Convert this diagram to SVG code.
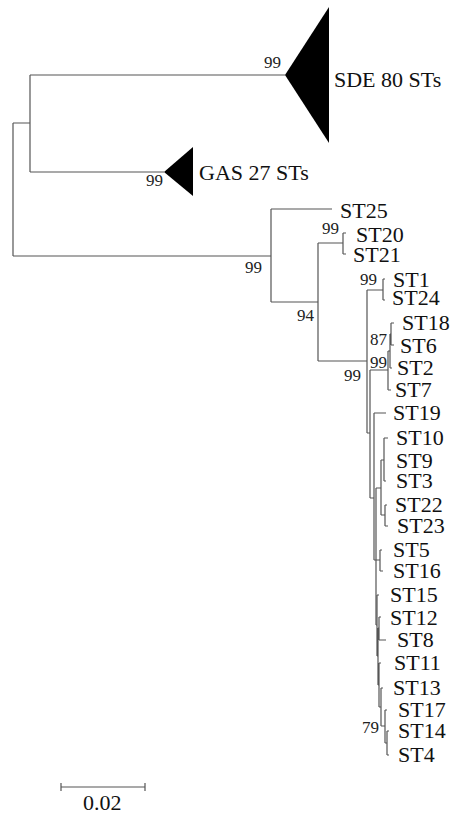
<svg xmlns="http://www.w3.org/2000/svg" width="453" height="815" viewBox="0 0 453 815">
<style>
.br{fill:none;stroke:#555;stroke-width:1.2}
.tri{fill:#000;stroke:none}
.lab{font-family:"Liberation Serif","Times New Roman",serif;font-size:22px;fill:#111}
.bs{font-family:"Liberation Serif","Times New Roman",serif;font-size:17px;fill:#222;text-anchor:end}
</style>
<rect width="453" height="815" fill="#fff"/>
<g id="connectors">
<path class="br" d="M13,123V256M13,123H30M30,75V172M30,75H285M30,172H164"/>
<path class="br" d="M13,256H271M271,209V302M271,209H332M271,302H318M318,243V361M318,243H343M343,233V254M343,233H346M343,254H346"/>
<path class="br" d="M318,361H367M367,290V433M367,290H383M383,279V300M383,279H385M383,300H385"/>
<path class="br" d="M367,433H370M370,370V498M370,370H388M388,351V390M388,390H391M388,351H390M390,334V368M390,368H392M390,334H391M391,323V345M391,323H394M391,345H394"/>
<path class="br" d="M370,498H374M374,413V560M374,413H386M374,560H376M376,488V625"/>
<path class="br" d="M376,488H381M381,460V515M381,460H384M384,438V481M384,438H388M384,481H386M381,515H385M385,505V526M385,505H387M385,526H388"/>
<path class="br" d="M376,625H377M376,560H380M380,550V571M380,550H382M380,571H383M377,595V656M377,595H379M377,656H378M378,628V685M378,628H379M379,617V640M379,617H381M379,640H386M378,685H379M379,663V707M379,663H381M379,707H381M381,688V726M381,688H383M381,726H385M385,710V743M385,710H387M385,743H387M387,731V755M387,731H389M387,755H389"/>
<path class="br" d="M61,787H145M61,783V791M145,783V791"/>
</g>
<g id="SDE"><polygon class="tri" points="285,75 329,7 329,143"/><text class="lab" x="334" y="87">SDE 80 STs</text><text class="bs" x="281" y="68">99</text></g>
<g id="GAS"><polygon class="tri" points="164,172 193,147 193,196"/><text class="lab" x="199" y="180">GAS 27 STs</text><text class="bs" x="163" y="186">99</text></g>
<g id="bootstrap">
<text class="bs" x="262" y="273">99</text>
<text class="bs" x="314" y="321">94</text>
<text class="bs" x="339" y="234">99</text>
<text class="bs" x="377" y="285">99</text>
<text class="bs" x="387" y="345">87</text>
<text class="bs" x="387" y="368">99</text>
<text class="bs" x="361" y="381">99</text>
<text class="bs" x="379" y="733">79</text>
</g>
<g id="tips">
<text class="lab" x="340" y="218">ST25</text>
<text class="lab" x="356" y="242">ST20</text>
<text class="lab" x="353" y="262">ST21</text>
<text class="lab" x="393" y="287">ST1</text>
<text class="lab" x="392" y="305">ST24</text>
<text class="lab" x="402" y="330">ST18</text>
<text class="lab" x="400" y="353">ST6</text>
<text class="lab" x="397" y="375">ST2</text>
<text class="lab" x="395" y="397">ST7</text>
<text class="lab" x="393" y="420">ST19</text>
<text class="lab" x="396" y="445">ST10</text>
<text class="lab" x="396" y="468">ST9</text>
<text class="lab" x="396" y="488">ST3</text>
<text class="lab" x="395" y="512">ST22</text>
<text class="lab" x="397" y="533">ST23</text>
<text class="lab" x="393" y="557">ST5</text>
<text class="lab" x="393" y="578">ST16</text>
<text class="lab" x="390" y="602">ST15</text>
<text class="lab" x="390" y="625">ST12</text>
<text class="lab" x="397" y="647">ST8</text>
<text class="lab" x="394" y="670">ST11</text>
<text class="lab" x="393" y="695">ST13</text>
<text class="lab" x="398" y="717">ST17</text>
<text class="lab" x="398" y="738">ST14</text>
<text class="lab" x="398" y="762">ST4</text>
</g>
<g id="scale"><text class="lab" x="83" y="810">0.02</text></g>
</svg>
